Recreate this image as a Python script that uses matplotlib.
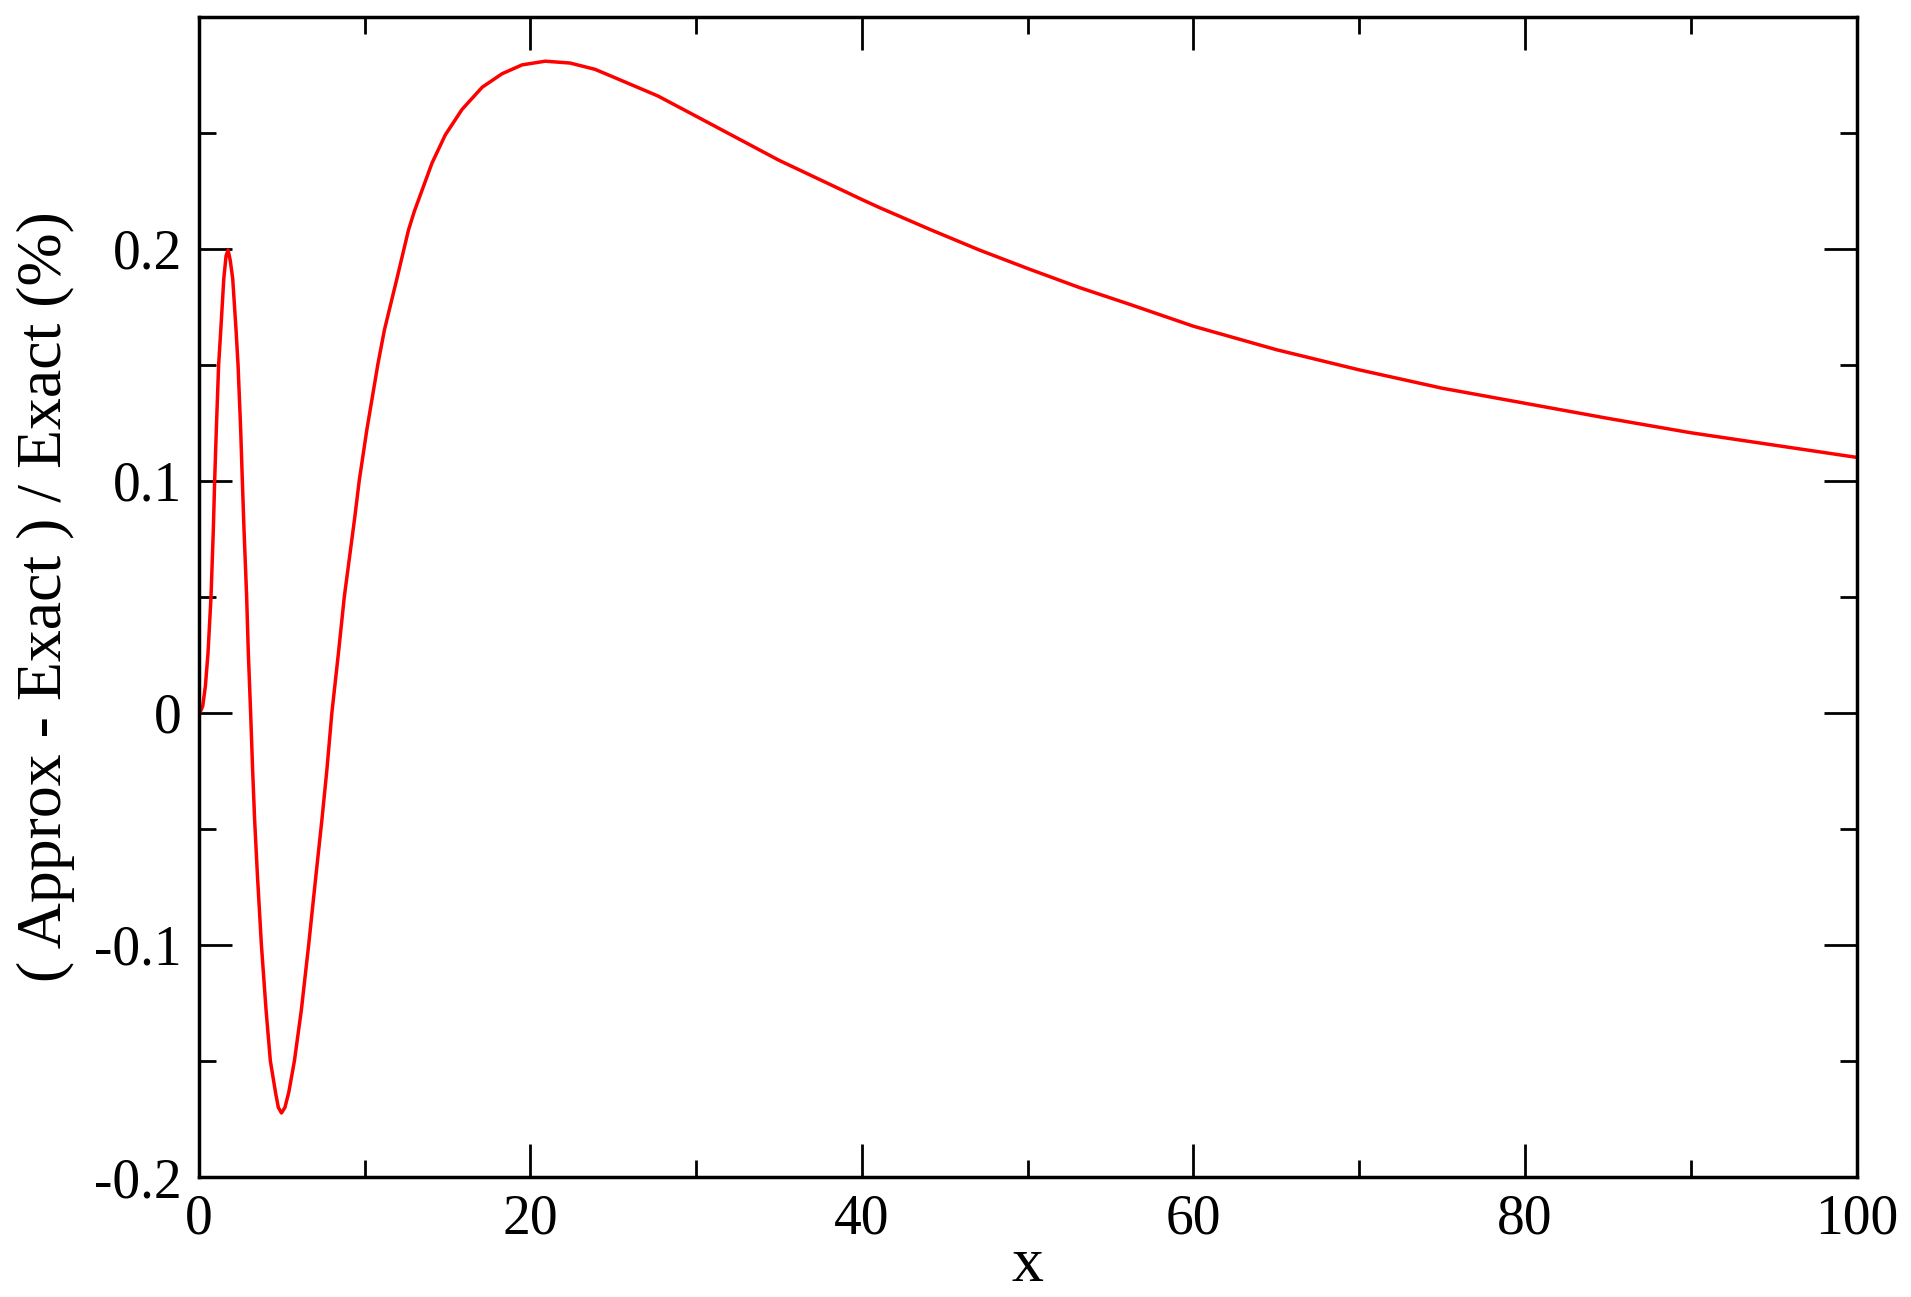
import matplotlib
matplotlib.use("Agg")
import matplotlib.pyplot as plt
from matplotlib.ticker import FixedLocator

# Data
x_vals = [0.0, 0.10, 0.24, 0.40, 0.56, 0.74, 0.88, 0.96, 1.06, 1.20, 1.33, 1.51, 1.65, 1.77,
          1.90, 2.05, 2.25, 2.37, 2.53, 2.63, 2.73, 2.89, 2.99, 3.13, 3.25, 3.37, 3.54, 3.78,
          4.06, 4.32, 4.63, 4.80, 4.99, 5.20, 5.43, 5.77, 6.19, 6.63, 7.07, 7.43, 7.73, 8.03,
          8.43, 8.78, 9.40, 9.68, 10.14, 10.80, 11.20, 11.95, 12.65, 13.00, 14.07, 14.87,
          15.88, 17.10, 18.30, 19.50, 20.90, 22.40, 23.90, 25.00, 27.70, 30.0, 35.0, 38.08,
          40.0, 41.1, 44.11, 47.1, 50.14, 53.15, 56.17, 60.0, 65.0, 70.0, 75.0, 80.0, 85.0,
          90.0, 95.0, 100.0]
y_vals = [0.0, 0.0005, 0.0029, 0.0115, 0.0259, 0.050, 0.079, 0.100, 0.122, 0.150, 0.165, 0.187,
          0.197, 0.1994, 0.195, 0.187, 0.165, 0.150, 0.122, 0.100, 0.079, 0.050, 0.026, 0.0,
          -0.0245, -0.046, -0.070, -0.100, -0.128, -0.150, -0.1635, -0.170, -0.1724, -0.170,
          -0.1635, -0.150, -0.128, -0.100, -0.070, -0.046, -0.0245, 0.0, 0.026, 0.050, 0.0836,
          0.100, 0.122, 0.150, 0.165, 0.187, 0.208, 0.2160, 0.2369, 0.2490, 0.2600, 0.2696,
          0.2754, 0.2792, 0.2808, 0.2800, 0.2773, 0.2740, 0.2658, 0.2571, 0.2381, 0.2277,
          0.2212, 0.2176, 0.2083, 0.1994, 0.1911, 0.1832, 0.1760, 0.1666, 0.1565, 0.1478,
          0.1399, 0.1334, 0.1269, 0.1207, 0.1154, 0.1101]

x_major = [0, 20, 40, 60, 80, 100]
x_minor = [10, 30, 50, 70, 90]
y_major = [-0.2, -0.1, 0.0, 0.1, 0.2]
y_major_labels = ["-0.2", "-0.1", "0", "0.1", "0.2"]
y_minor = [-0.15, -0.05, 0.05, 0.15, 0.25]

plt.rcParams['font.family'] = ['Liberation Serif', 'DejaVu Serif']

fig = plt.figure(figsize=(19.11, 12.97), dpi=100)
ax = fig.add_axes([0.104, 0.0925, 0.8675, 0.8945])

ax.plot(x_vals, y_vals, color='#ff0000', linewidth=2.5)

ax.set_xlim(0, 100)
ax.set_ylim(-0.2, 0.2999)

ax.xaxis.set_major_locator(FixedLocator(x_major))
ax.xaxis.set_minor_locator(FixedLocator(x_minor))
ax.yaxis.set_major_locator(FixedLocator(y_major))
ax.yaxis.set_minor_locator(FixedLocator(y_minor))
ax.set_xticklabels([str(v) for v in x_major])
ax.set_yticklabels(y_major_labels)

ax.tick_params(which='both', direction='in', top=True, right=True, width=2.0)
ax.tick_params(which='major', length=24, labelsize=40)
ax.tick_params(which='minor', length=12)
ax.tick_params(axis='x', which='major', pad=12)
ax.tick_params(axis='y', which='major', pad=12)

for s in ax.spines.values():
    s.set_linewidth(2.5)

ax.set_xlabel('x', fontsize=46, labelpad=-6)
ax.set_ylabel('( Approx - Exact ) / Exact (%)', fontsize=46, labelpad=14)

fig.savefig('out.png', dpi=100)
